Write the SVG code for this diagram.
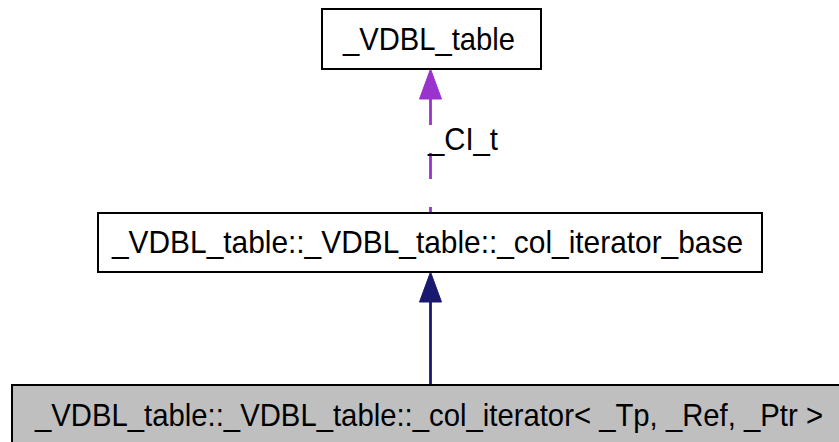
<svg xmlns="http://www.w3.org/2000/svg" width="839" height="442" viewBox="0 0 839 442">
<style>
.box{fill:#ffffff;stroke:#000000;stroke-width:2}
.cur{fill:#bfbfbf;stroke:#000000;stroke-width:2}
.lbl{font-family:"Liberation Sans",Arial,Helvetica,sans-serif;font-size:30.5px;fill:#000000}
.usage{stroke:#9a32cd;stroke-width:2.8;fill:none;stroke-dasharray:26,28}
.usagehead{fill:#9a32cd;stroke:#9a32cd;stroke-width:1}
.inh{stroke:#191970;stroke-width:2.8;fill:none}
.inhhead{fill:#191970;stroke:#191970;stroke-width:1}
</style>
<rect x="0" y="0" width="839" height="442" fill="#ffffff"/>
<g id="connectors">
  <path class="usage" d="M430.5,99 L430.5,213"/>
  <polygon class="usagehead" points="430.5,69 419.5,99 441.5,99"/>
  <text class="lbl" x="428" y="150" textLength="70" lengthAdjust="spacingAndGlyphs">_CI_t</text>
  <path class="inh" d="M430.5,302 L430.5,385"/>
  <polygon class="inhhead" points="430.5,272 419.5,302 441.5,302"/>
</g>
<g id="node_vdbl_table">
  <rect class="box" x="322" y="9" width="219" height="60"/>
  <text class="lbl" x="343" y="50" textLength="172" lengthAdjust="spacingAndGlyphs">_VDBL_table</text>
</g>
<g id="node_col_iterator_base">
  <rect class="box" x="98" y="213" width="664" height="59"/>
  <text class="lbl" x="112" y="253" textLength="631" lengthAdjust="spacingAndGlyphs">_VDBL_table::_VDBL_table::_col_iterator_base</text>
</g>
<g id="node_col_iterator">
  <rect class="cur" x="12" y="385" width="837" height="70"/>
  <text class="lbl" x="35" y="426" textLength="788" lengthAdjust="spacingAndGlyphs">_VDBL_table::_VDBL_table::_col_iterator&lt; _Tp, _Ref, _Ptr &gt;</text>
</g>
</svg>
